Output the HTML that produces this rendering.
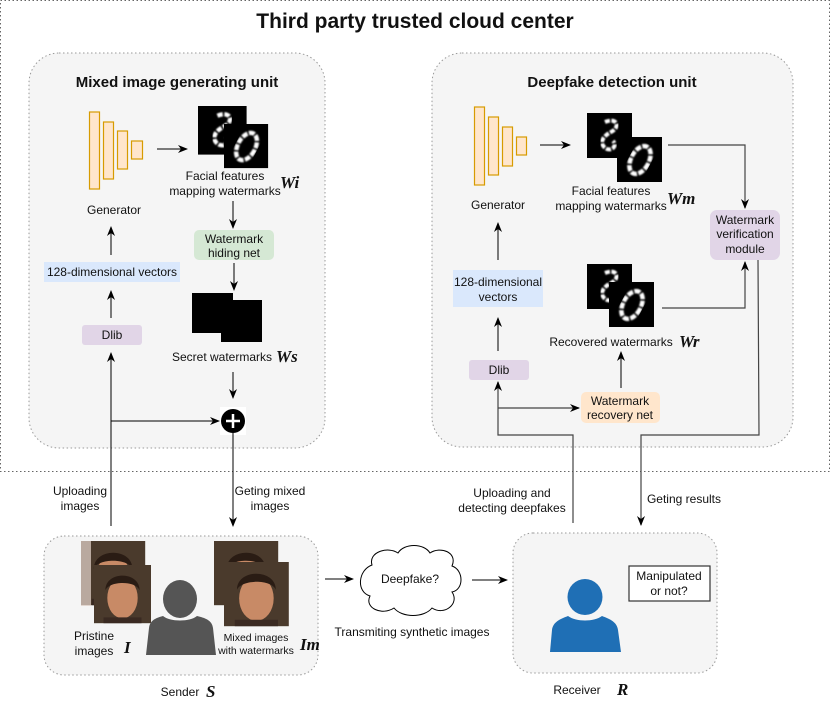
<!DOCTYPE html>
<html><head><meta charset="utf-8"><style>
html,body{margin:0;padding:0;background:#fff}
svg{display:block}
text{font-family:"Liberation Sans",sans-serif;fill:#111}
.s{font-size:12px}
.it{font-family:"Liberation Serif",serif;font-style:italic;font-weight:bold;font-size:17px}
</style></head><body>
<svg width="830" height="707" viewBox="0 0 830 707" xmlns="http://www.w3.org/2000/svg">
<defs>
<marker id="ar" markerWidth="10" markerHeight="10" refX="9" refY="5" orient="auto" markerUnits="userSpaceOnUse">
<path d="M0,1 L10,5 L0,9 L3,5 z" fill="#000"/></marker>
<filter id="bl"><feGaussianBlur stdDeviation="0.7"/></filter>
<g id="dA"><rect width="45" height="45" fill="#000"/><path d="M18 9 C30 4,34 14,24 19 C14 24,12 32,20 36 C26 38,30 32,26 28" stroke="#fff" stroke-width="4" fill="none" filter="url(#bl)" stroke-dasharray="5 1.5"/></g>
<g id="dB"><rect width="45" height="45" fill="#000"/><ellipse cx="23" cy="23" rx="9" ry="15" transform="rotate(28 23 23)" stroke="#fff" stroke-width="4.5" fill="none" filter="url(#bl)" stroke-dasharray="6 1.5"/></g>
<linearGradient id="fb" x1="0" y1="0" x2="0" y2="1"><stop offset="0" stop-color="#3a2a20"/><stop offset="1" stop-color="#6a4a38"/></linearGradient>
<g id="face"><rect width="60" height="60" fill="#4a3a2c"/><ellipse cx="30" cy="34" rx="16" ry="21" fill="#c88a66"/><path d="M12 26 C12 6,48 6,48 26 C44 16,16 16,12 26z" fill="#2a1c14"/><rect x="10" y="54" width="40" height="6" fill="#3a2a22"/></g>
</defs>

<rect x="0.5" y="0.5" width="829" height="471" fill="none" stroke="#666" stroke-dasharray="1.5 2.5"/>
<text x="415" y="28" text-anchor="middle" font-size="21" font-weight="bold">Third party trusted cloud center</text>

<!-- left unit -->
<rect x="29" y="53" width="296" height="395" rx="30" fill="#f5f5f5" stroke="#999" stroke-dasharray="1.5 2.5"/>
<text x="177" y="87" text-anchor="middle" font-size="15" font-weight="bold">Mixed image generating unit</text>
<g fill="#ffe6cc" stroke="#d79b00" stroke-width="1.2">
<rect x="89.5" y="112" width="10" height="77"/><rect x="103.5" y="122" width="10" height="57"/><rect x="117.5" y="131" width="10" height="38"/><rect x="131.5" y="141" width="11" height="18"/></g>
<line x1="157" y1="149" x2="187" y2="149" stroke="#000" marker-end="url(#ar)"/>
<use href="#dA" transform="translate(198,106) scale(1.08)"/>
<use href="#dB" transform="translate(224,124) scale(0.98)"/>
<text x="225" y="180" text-anchor="middle" class="s">Facial features</text>
<text x="225" y="195" text-anchor="middle" class="s">mapping watermarks</text>
<text x="280" y="188" class="it">Wi</text>
<text x="114" y="214" text-anchor="middle" class="s">Generator</text>
<line x1="111" y1="255" x2="111" y2="227" stroke="#000" marker-end="url(#ar)"/>
<rect x="44" y="262" width="136" height="20" fill="#dae8fc"/>
<text x="112" y="276" text-anchor="middle" class="s">128-dimensional vectors</text>
<line x1="111" y1="318" x2="111" y2="291" stroke="#000" marker-end="url(#ar)"/>
<rect x="82" y="325" width="60" height="20" rx="3" fill="#e1d5e7"/>
<text x="112" y="339" text-anchor="middle" class="s">Dlib</text>
<line x1="233" y1="201" x2="233" y2="228" stroke="#000" marker-end="url(#ar)"/>
<rect x="194" y="230" width="80" height="30" rx="5" fill="#d5e8d4"/>
<text x="234" y="243" text-anchor="middle" class="s">Watermark</text>
<text x="234" y="257" text-anchor="middle" class="s">hiding net</text>
<line x1="234" y1="263" x2="234" y2="290" stroke="#000" marker-end="url(#ar)"/>
<rect x="192" y="293" width="41" height="40" fill="#000"/><rect x="221" y="300" width="41" height="42" fill="#000"/>
<text x="222" y="361" text-anchor="middle" class="s">Secret watermarks</text>
<text x="276" y="362" class="it">Ws</text>
<line x1="233" y1="372" x2="233" y2="398" stroke="#000" marker-end="url(#ar)"/>
<rect x="220" y="407" width="26" height="28" fill="#fff"/>
<circle cx="233" cy="421" r="12" fill="#000"/>
<path d="M233 414v14M226 421h14" stroke="#fff" stroke-width="2.5"/>
<line x1="111" y1="526" x2="111" y2="353" stroke="#000" marker-end="url(#ar)"/>
<line x1="111" y1="421" x2="219" y2="421" stroke="#000" marker-end="url(#ar)"/>
<line x1="233" y1="433" x2="233" y2="526" stroke="#000" marker-end="url(#ar)"/>
<text x="80" y="495" text-anchor="middle" class="s" font-size="11">Uploading</text>
<text x="80" y="510" text-anchor="middle" class="s" font-size="11">images</text>
<text x="270" y="495" text-anchor="middle" class="s" font-size="11">Geting mixed</text>
<text x="270" y="510" text-anchor="middle" class="s" font-size="11">images</text>

<!-- right unit -->
<rect x="432" y="53" width="361" height="394" rx="30" fill="#f5f5f5" stroke="#999" stroke-dasharray="1.5 2.5"/>
<text x="612" y="87" text-anchor="middle" font-size="15" font-weight="bold">Deepfake detection unit</text>
<g fill="#ffe6cc" stroke="#d79b00" stroke-width="1.2">
<rect x="474.5" y="107" width="10" height="78"/><rect x="488.5" y="117" width="10" height="58"/><rect x="502.5" y="127" width="10" height="39"/><rect x="516.5" y="137" width="10" height="18"/></g>
<line x1="540" y1="145" x2="570" y2="145" stroke="#000" marker-end="url(#ar)"/>
<use href="#dA" transform="translate(587,113) scale(1)"/>
<use href="#dB" transform="translate(617,137) scale(1)"/>
<text x="611" y="195" text-anchor="middle" class="s">Facial features</text>
<text x="611" y="210" text-anchor="middle" class="s">mapping watermarks</text>
<text x="667" y="204" class="it">Wm</text>
<text x="498" y="209" text-anchor="middle" class="s">Generator</text>
<polyline points="668,145 745,145 745,208" fill="none" stroke="#444" stroke-width="1.2" marker-end="url(#ar)"/>
<rect x="710" y="210" width="70" height="50" rx="7" fill="#e1d5e7"/>
<text x="745" y="224" text-anchor="middle" class="s">Watermark</text>
<text x="745" y="238" text-anchor="middle" class="s">verification</text>
<text x="745" y="253" text-anchor="middle" class="s">module</text>
<line x1="498" y1="260" x2="498" y2="223" stroke="#000" marker-end="url(#ar)"/>
<rect x="453" y="270" width="90" height="37" fill="#dae8fc"/>
<text x="498" y="286" text-anchor="middle" class="s">128-dimensional</text>
<text x="498" y="301" text-anchor="middle" class="s">vectors</text>
<line x1="498" y1="351" x2="498" y2="318" stroke="#000" marker-end="url(#ar)"/>
<rect x="469" y="360" width="60" height="20" rx="3" fill="#e1d5e7"/>
<text x="499" y="374" text-anchor="middle" class="s">Dlib</text>
<use href="#dA" transform="translate(587,264) scale(1)"/>
<use href="#dB" transform="translate(609,282) scale(1)"/>
<polyline points="662,308 745,308 745,262" fill="none" stroke="#444" stroke-width="1.2" marker-end="url(#ar)"/>
<text x="611" y="346" text-anchor="middle" class="s">Recovered watermarks</text>
<text x="679" y="347" class="it">Wr</text>
<line x1="621" y1="388" x2="621" y2="352" stroke="#000" marker-end="url(#ar)"/>
<rect x="581" y="392" width="79" height="31" rx="5" fill="#ffe6cc"/>
<text x="620" y="405" text-anchor="middle" class="s">Watermark</text>
<text x="620" y="419" text-anchor="middle" class="s">recovery net</text>
<line x1="498" y1="408" x2="579" y2="408" stroke="#444" stroke-width="1.2" marker-end="url(#ar)"/>
<polyline points="573,523 573,435 498,435 498,382" fill="none" stroke="#444" stroke-width="1.2" marker-end="url(#ar)"/>
<polyline points="758,260 759,435 641,435 641,525" fill="none" stroke="#444" stroke-width="1.2" marker-end="url(#ar)"/>
<text x="512" y="497" text-anchor="middle" class="s" font-size="11">Uploading and</text>
<text x="512" y="512" text-anchor="middle" class="s" font-size="11">detecting deepfakes</text>
<text x="684" y="503" text-anchor="middle" class="s" font-size="11">Geting results</text>

<!-- sender -->
<rect x="44" y="536" width="274" height="139" rx="20" fill="#f5f5f5" stroke="#999" stroke-dasharray="1.5 2.5"/>
<use href="#face" transform="translate(81,541) scale(1.07)"/>
<rect x="81" y="541" width="10" height="65" fill="#e8d8d0" opacity="0.7"/>
<use href="#face" transform="translate(94,565) scale(0.95 0.97)"/>
<use href="#face" transform="translate(214,541) scale(1.07)"/>
<use href="#face" transform="translate(224,562) scale(1.08 1.07)"/>
<ellipse cx="180" cy="599" rx="17" ry="19" fill="#555"/>
<path d="M146 655 L149 628 C150 620,156 618,163 616 C170 622,190 622,197 616 C205 618,212 620,213 628 L216 655z" fill="#555"/>
<text x="94" y="640" text-anchor="middle" class="s">Pristine</text>
<text x="94" y="655" text-anchor="middle" class="s">images</text>
<text x="124" y="653" class="it">I</text>
<text x="256" y="641" text-anchor="middle" font-size="10.5">Mixed images</text>
<text x="256" y="654" text-anchor="middle" font-size="10.5">with watermarks</text>
<text x="300" y="650" class="it">Im</text>
<text x="180" y="696" text-anchor="middle" class="s" font-size="11">Sender</text>
<text x="206" y="697" class="it" font-size="16">S</text>

<!-- middle -->
<line x1="325" y1="579" x2="353" y2="579" stroke="#000" marker-end="url(#ar)"/>
<path d="M372 565 C368 552,388 546,398 553 C404 543,424 543,430 553 C440 546,458 552,452 566 C464 570,464 590,452 592 C460 604,444 616,432 608 C424 618,402 618,394 608 C382 616,364 608,370 596 C356 592,358 570,372 565z" fill="#fff" stroke="#000"/>
<text x="410" y="583" text-anchor="middle" class="s">Deepfake?</text>
<line x1="472" y1="580" x2="507" y2="580" stroke="#000" marker-end="url(#ar)"/>
<text x="412" y="636" text-anchor="middle" class="s" font-size="11.5">Transmiting synthetic images</text>

<!-- receiver -->
<rect x="513" y="533" width="204" height="140" rx="20" fill="#f5f5f5" stroke="#999" stroke-dasharray="1.5 2.5"/>
<ellipse cx="585" cy="597" rx="17.5" ry="18" fill="#1f6fb5"/>
<path d="M550 652 L552 630 C553 622,560 619,568 616 C576 622,594 622,602 616 C610 619,617 622,618 630 L621 652z" fill="#1f6fb5"/>
<rect x="629" y="566" width="81" height="35" fill="#fff" stroke="#333" stroke-width="1.2"/>
<text x="669" y="580" text-anchor="middle" class="s">Manipulated</text>
<text x="669" y="595" text-anchor="middle" class="s">or not?</text>
<text x="577" y="694" text-anchor="middle" class="s" font-size="11">Receiver</text>
<text x="617" y="695" class="it" font-size="16">R</text>
</svg>
</body></html>
